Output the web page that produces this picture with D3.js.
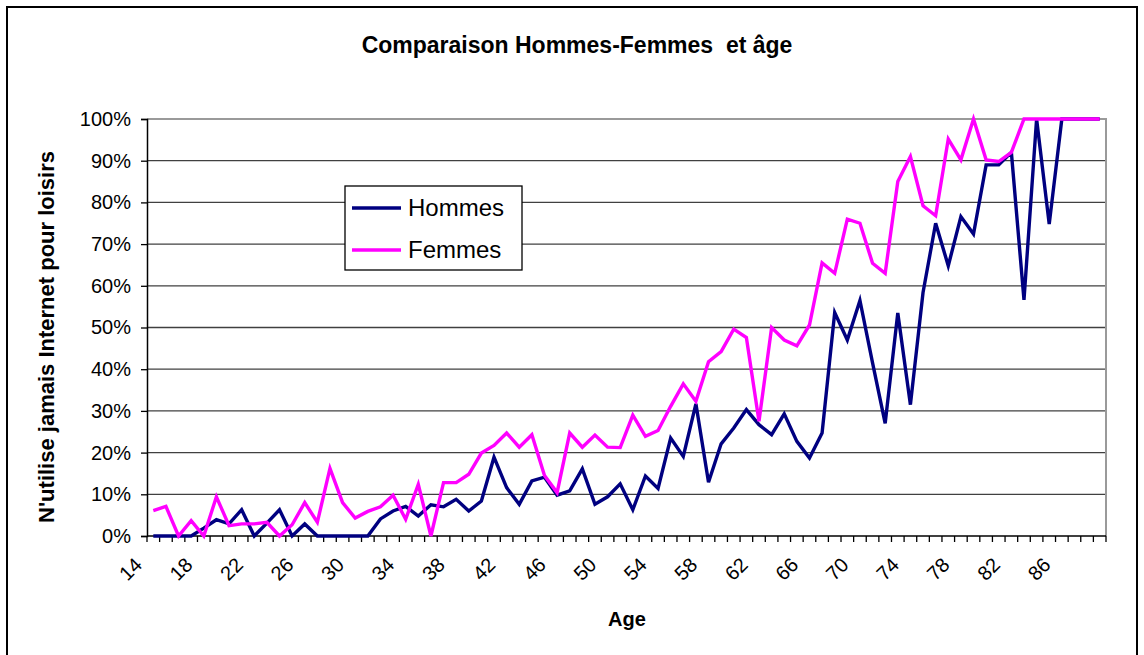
<!DOCTYPE html>
<html><head><meta charset="utf-8">
<script src="https://cdn.jsdelivr.net/npm/d3@7"></script>
<style>html,body{margin:0;padding:0;background:#fff;}svg{display:block;font-family:"Liberation Sans",Arial,sans-serif;}</style>
</head><body>
<svg id="chart" width="1144" height="655"></svg>
<script>
const ages = d3.range(14, 90);
const tickLabels = [14,18,22,26,30,34,38,42,46,50,54,58,62,66,70,74,78,82,86];
const yTicks = [0,10,20,30,40,50,60,70,80,90,100];
const hommes = [0,0,0,0,1.9,3.9,2.9,6.3,0,3.1,6.3,0,2.9,0,0,0,0,0,4.1,6.0,
  7.1,4.8,7.5,7.0,8.8,6.0,8.4,18.9,11.6,7.6,13.2,14.1,9.8,10.8,16.1,7.6,9.4,12.5,6.3,14.4,
  11.4,23.5,19.1,31.7,12.9,22.1,25.9,30.3,26.7,24.3,29.3,22.7,18.7,24.7,53.6,47.0,56.5,41.5,27.0,53.5,
  31.5,58.4,75.0,64.8,76.6,72.4,89.0,89.0,92.0,56.6,100,74.8,100,100,100,100];
const femmes = [6.1,7.1,0,3.7,0,9.4,2.5,2.9,2.9,3.3,0,2.7,8.0,3.3,16.2,8.0,4.3,5.9,7.0,9.8,
  4.0,12.4,0,12.8,12.8,14.8,19.9,21.7,24.7,21.3,24.3,14.5,10.4,24.7,21.3,24.2,21.3,21.2,29.0,23.9,
  25.3,31.1,36.5,32.3,41.8,44.2,49.6,47.6,27.5,50.0,47.0,45.6,50.6,65.5,63.0,76.0,75.0,65.4,63.0,85.0,
  91.0,79.2,76.8,95.2,90.2,100,90.2,89.8,92.0,100,100,100,100,100,100,100];
const seriesNames = ["Hommes","Femmes"];
const colors = ["#000080","#FF00FF"];

const svg = d3.select("#chart");
const L = 147, R = 1106, T = 119, B = 536;
const x = d3.scaleBand().domain(ages).range([L, R]).padding(0);
const y = d3.scaleLinear().domain([0,100]).range([B, T]);
const cx = a => x(a) + x.bandwidth()/2;

// outer border
svg.append("rect").attr("x",7).attr("y",7).attr("width",1130).attr("height",670)
  .attr("fill","none").attr("stroke","#000").attr("stroke-width",2);

// title
svg.append("text").attr("x",577).attr("y",53).attr("text-anchor","middle")
  .style("white-space","pre")
  .attr("font-weight","bold").attr("font-size",23).text("Comparaison Hommes-Femmes  et âge");

// gridlines
svg.append("g").selectAll("line").data(yTicks.filter(d=>d>0)).join("line")
  .attr("x1",L).attr("x2",R).attr("y1",d=>y(d)).attr("y2",d=>y(d))
  .attr("stroke","#404040").attr("stroke-width",1.3);
// plot border top/right
svg.append("path").attr("d",`M${L},${T}H${R}V${B}`).attr("fill","none").attr("stroke","#9a9a9a").attr("stroke-width",2);

// y axis
const yAxis = d3.axisLeft(y).tickValues(yTicks).tickSize(6).tickPadding(10).tickFormat(d=>d+"%");
const gy = svg.append("g").attr("transform",`translate(${L},0)`).call(yAxis);
gy.select(".domain").attr("stroke","#000").attr("stroke-width",1.5);
gy.selectAll(".tick line").attr("stroke","#000").attr("stroke-width",1.3);
gy.selectAll(".tick text").attr("font-size",20).attr("fill","#000").attr("font-family","Liberation Sans, Arial, sans-serif");

// x axis with ticks between categories
const gx = svg.append("g").attr("transform",`translate(0,${B})`);
gx.append("line").attr("x1",L).attr("x2",R).attr("stroke","#000").attr("stroke-width",1.5);
const bounds = ages.map(a=>x(a)).concat([R]);
gx.selectAll("line.tk").data(bounds).join("line").attr("class","tk")
  .attr("x1",d=>d).attr("x2",d=>d).attr("y1",0).attr("y2",6).attr("stroke","#000").attr("stroke-width",1.3);
gx.selectAll("text").data(tickLabels).join("text")
  .attr("transform",d=>`translate(${cx(d)-20},${20}) rotate(-45)`)
  .attr("text-anchor","end").attr("dy","0.71em").attr("font-size",20).text(d=>d);

// axis titles
svg.append("text").attr("x",627).attr("y",626).attr("text-anchor","middle")
  .attr("font-weight","bold").attr("font-size",20).text("Age");
svg.append("text").attr("transform","translate(54,337) rotate(-90)").attr("text-anchor","middle")
  .attr("font-weight","bold").attr("font-size",22).text("N'utilise jamais Internet pour loisirs");

// lines
const data = [hommes, femmes];
const line = d3.line().x((d,i)=>cx(ages[i])).y(d=>y(d));
svg.append("g").selectAll("path").data(data).join("path")
  .attr("d",line).attr("fill","none").attr("stroke",(d,i)=>colors[i])
  .attr("stroke-width",3.4).attr("stroke-linejoin","miter");

// legend
const lg = svg.append("g");
lg.append("rect").attr("x",345).attr("y",186).attr("width",177).attr("height",84)
  .attr("fill","#fff").attr("stroke","#000").attr("stroke-width",1.3);
seriesNames.forEach((n,i)=>{
  const yy = 208 + i*42;
  lg.append("line").attr("x1",352).attr("x2",401).attr("y1",yy).attr("y2",yy)
    .attr("stroke",colors[i]).attr("stroke-width",3.4);
  lg.append("text").attr("x",408).attr("y",yy+8).attr("font-size",24).text(n);
});
</script>
</body></html>
